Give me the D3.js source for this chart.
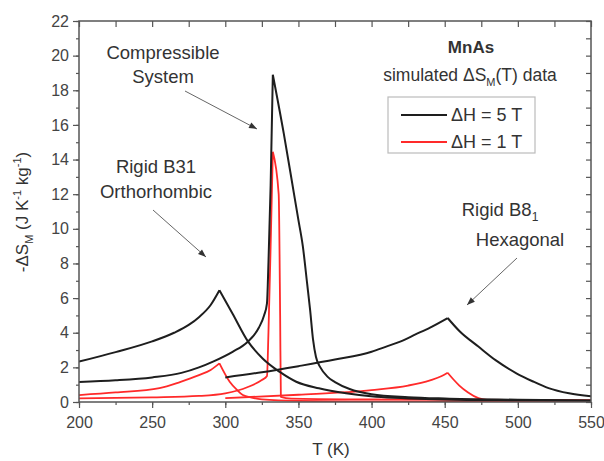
<!DOCTYPE html>
<html><head><meta charset="utf-8">
<script src="https://cdn.jsdelivr.net/npm/d3@7/dist/d3.min.js"></script>
<style>body{margin:0;background:#fff}svg{display:block}text{font-family:"Liberation Sans",Arial,sans-serif}</style>
</head><body><svg id="c" width="604" height="461"></svg>
<script>
// ---- data ----
const xTicks = [200,250,300,350,400,450,500,550];
const yTicks = [0,2,4,6,8,10,12,14,16,18,20,22];

const compT5 = [200,225,250,270,282,292,305,315,323,326.5,328.5,329.5,331,332.5,340,347,350,353,356,358,360,362,365,370,375,385,400,425,450,500,550];
const comp5  = [1.15,1.25,1.42,1.68,2.0,2.35,2.9,3.45,4.3,5.0,5.7,8.0,12.5,18.9,15.5,12.0,10.5,9.0,6.8,5.3,3.6,2.6,2.0,1.45,1.15,0.75,0.45,0.28,0.2,0.13,0.08];

const compT1 = [200,250,282,300,315,325,328.5,329.5,331,332.5,336.5,337.5,338,345,400,550];
const comp1  = [0.21,0.27,0.35,0.5,0.85,1.27,1.5,4,9,14.45,12,5,0.3,0.2,0.15,0.1];

const orthoT5 = [200,225,250,265,275,282,290,296,305,315.5,325.7,337,348.5,364,382.6,403,450,500,550];
const ortho5  = [2.33,2.88,3.5,4.0,4.45,4.9,5.6,6.45,5.1,3.5,2.5,1.75,1.17,0.79,0.5,0.3,0.15,0.1,0.07];

const orthoT1 = [200,225,255,269,282,290,296,303,308,312,318,325,350,400,550];
const ortho1  = [0.4,0.55,0.8,1.15,1.55,1.85,2.23,1.17,0.7,0.4,0.25,0.15,0.06,0.03,0.01];

const hexT5 = [300,325,350,375,400,410,420,430,440,452,460,473,485,499,510,521,535,550];
const hex5  = [1.42,1.72,2.07,2.45,2.9,3.2,3.5,3.9,4.3,4.85,4.1,3.2,2.4,1.66,1.2,0.8,0.5,0.33];

const hexT1 = [300,350,400,425,440,448,452,456,460,466,473,480,500,550];
const hex1  = [0.22,0.42,0.69,0.95,1.25,1.5,1.69,1.3,0.95,0.55,0.22,0.1,0.05,0.02];

const legendLabels = ["\u0394H = 5 T","\u0394H = 1 T"];

// ---- chart ----
const svg = d3.select("#c");
const L=79,R=591,T=21,B=402;
const x = d3.scaleLinear().domain([200,550]).range([L,R]);
const y = d3.scaleLinear().domain([0,22]).range([B,T]);
const BLACK="#1e1e1e", RED="#ff2a2a", AX="#555";

const line = d3.line().x(d=>x(d[0])).y(d=>y(d[1])).curve(d3.curveMonotoneX);
const series = [
  [hexT1,hex1,RED,1.8],[orthoT1,ortho1,RED,1.8],[compT1,comp1,RED,1.8],
  [hexT5,hex5,BLACK,2],[orthoT5,ortho5,BLACK,2],[compT5,comp5,BLACK,2]
];
const g = svg.append("g");
g.append("defs").append("clipPath").attr("id","clp").append("rect").attr("x",L).attr("y",T).attr("width",R-L).attr("height",B-T);
const plot = g.append("g").attr("clip-path","url(#clp)");
series.forEach(([ts,vs,c,w])=>{
  const pts = ts.map((t,i)=>[t,vs[i]]);
  const im = d3.maxIndex(vs);
  const path = line(pts.slice(0,im+1)) + line(pts.slice(im));
  plot.append("path").attr("d",path)
    .attr("fill","none").attr("stroke",c).attr("stroke-width",w).attr("stroke-linejoin","round");
});

// axes
const minorX = d3.range(200,551,25), minorY = d3.range(0,22.01,1);
function styleAx(sel){sel.select(".domain").remove();sel.selectAll("line").attr("stroke",AX).attr("stroke-width",1.2);sel.selectAll("text").attr("fill","#444").style("font-size","16px");}
svg.append("g").attr("transform",`translate(0,${B})`).call(d3.axisBottom(x).tickValues(minorX).tickSize(3).tickFormat("")).call(styleAx);
svg.append("g").attr("transform",`translate(0,${B})`).call(d3.axisBottom(x).tickValues(xTicks).tickSize(6).tickPadding(9).tickFormat(d3.format("d"))).call(styleAx);
svg.append("g").attr("transform",`translate(0,${T})`).call(d3.axisTop(x).tickValues(minorX).tickSize(-6).tickFormat("")).call(styleAx);
svg.append("g").attr("transform",`translate(${L},0)`).call(d3.axisLeft(y).tickValues(minorY).tickSize(3).tickFormat("")).call(styleAx);
svg.append("g").attr("transform",`translate(${L},0)`).call(d3.axisLeft(y).tickValues(yTicks).tickSize(6).tickPadding(4).tickFormat(d3.format("d"))).call(styleAx);
svg.append("g").attr("transform",`translate(${R},0)`).call(d3.axisRight(y).tickValues(minorY).tickSize(-5).tickFormat("")).call(styleAx);
svg.append("rect").attr("x",L).attr("y",T).attr("width",R-L).attr("height",B-T).attr("fill","none").attr("stroke",AX).attr("stroke-width",1.5);

// axis titles
svg.append("text").attr("x",331).attr("y",455).attr("text-anchor","middle").attr("fill","#333").style("font-size","17px").text("T (K)");
const yt = svg.append("text").attr("transform","translate(28,212) rotate(-90)").attr("text-anchor","middle").attr("fill","#333").style("font-size","17px");
yt.append("tspan").text("-\u0394S");
yt.append("tspan").attr("dy",5).style("font-size","11px").text("M");
yt.append("tspan").attr("dy",-5).text(" (J K");
yt.append("tspan").attr("dy",-7).style("font-size","11px").text("-1");
yt.append("tspan").attr("dy",7).text(" kg");
yt.append("tspan").attr("dy",-7).style("font-size","11px").text("-1");
yt.append("tspan").attr("dy",7).text(")");

// annotations
function txt(xx,yy,s,opt={}){return svg.append("text").attr("x",xx).attr("y",yy).attr("text-anchor","middle").attr("fill","#333").style("font-size",(opt.size||18.5)+"px").style("font-weight",opt.bold?"bold":"normal").text(s);}
txt(163,59,"Compressible");
txt(163,83,"System");
txt(156,173,"Rigid B31");
txt(156,198,"Orthorhombic");
const rb = svg.append("text").attr("x",500).attr("y",216).attr("text-anchor","middle").attr("fill","#333").style("font-size","18.5px");
rb.append("tspan").text("Rigid B8");
rb.append("tspan").attr("dy",5).style("font-size","12px").text("1");
txt(520,246,"Hexagonal");
txt(471,53,"MnAs",{bold:true,size:17});
const sim = svg.append("text").attr("x",470).attr("y",81).attr("text-anchor","middle").attr("fill","#333").style("font-size","17.5px");
sim.append("tspan").text("simulated \u0394S");
sim.append("tspan").attr("dy",5).style("font-size","11px").text("M");
sim.append("tspan").attr("dy",-5).text("(T) data");

// arrows
const arrows=[[185,91,257,129],[153,210,206,257],[517,258,467,305]];
arrows.forEach(([x1,y1,x2,y2])=>{
  svg.append("line").attr("x1",x1).attr("y1",y1).attr("x2",x2).attr("y2",y2).attr("stroke","#666").attr("stroke-width",1);
  const a=Math.atan2(y2-y1,x2-x1), len=8, w=3;
  const bx=x2-len*Math.cos(a), by=y2-len*Math.sin(a);
  const px=-Math.sin(a)*w, py=Math.cos(a)*w;
  svg.append("path").attr("d",`M${x2},${y2}L${bx+px},${by+py}L${bx-px},${by-py}Z`).attr("fill","#333");
});

// legend
svg.append("rect").attr("x",388).attr("y",97).attr("width",147).attr("height",56).attr("fill","#fff").attr("stroke","#bbb").attr("stroke-width",1.2);
[[BLACK,115],[RED,142]].forEach(([c,yy],i)=>{
  svg.append("line").attr("x1",401).attr("x2",447).attr("y1",yy).attr("y2",yy).attr("stroke",c).attr("stroke-width",2.2);
  svg.append("text").attr("x",451).attr("y",yy+6).attr("fill","#333").style("font-size","18px").text(legendLabels[i]);
});
</script></body></html>
